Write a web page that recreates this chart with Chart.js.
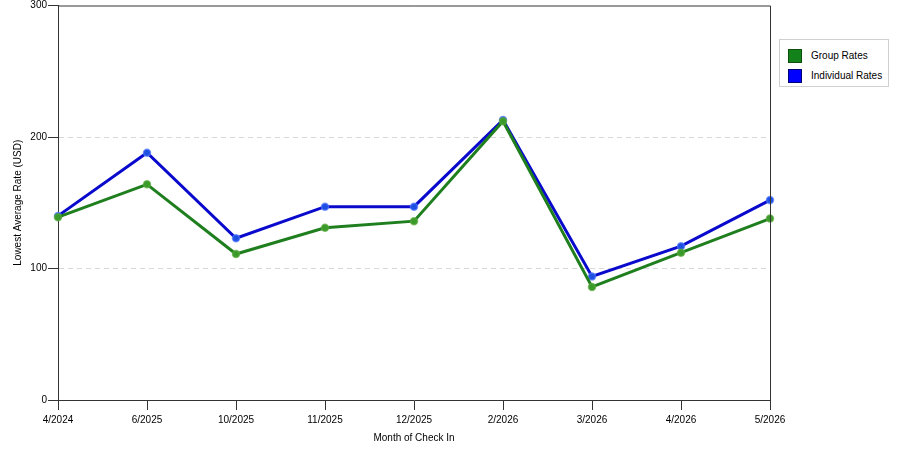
<!DOCTYPE html>
<html>
<head>
<meta charset="utf-8">
<script src="https://cdn.jsdelivr.net/npm/chart.js@4"></script>
<style>
  html, body { margin: 0; padding: 0; background: #fff; }
  .wrapper { position: relative; width: 900px; height: 450px; }
  #legend {
    position: absolute; left: 779px; top: 39px; width: 108px; height: 46px;
    border: 1px solid #d0d0d0; background: #fff;
    font-family: "Liberation Sans", Arial, sans-serif; font-size: 10px; color: #000;
  }
  #legend .item { position: absolute; left: 8px; height: 14px; line-height: 13px; }
  #legend .box { position: absolute; left: 0; top: 0; width: 12px; height: 12px; border: 1px solid #333; }
  #legend .txt { position: absolute; left: 23px; top: 0; white-space: nowrap; }
</style>
</head>
<body>
<div class="wrapper">
  <canvas id="Chart" width="900" height="450"></canvas>
  <div id="legend"></div>
</div>
<script>
// month of check in
let date_label = ["4/2024", "6/2025", "10/2025", "11/2025", "12/2025", "2/2026", "3/2026", "4/2026", "5/2026"];
// lowest average rate (USD)
let group_rates = [139, 164, 111, 131, 136, 212, 86, 112, 138];
let individual_rates = [140, 188, 123, 147, 147, 213, 94, 117, 152];
let y_ticks = [0, 100, 200, 300];

let font = { family: "Liberation Sans, Arial, sans-serif", size: 10 };

// legend, drawn as html
let legendItems = [
  { label: "Group Rates", color: "#14821a", border: "#0b4f0b" },
  { label: "Individual Rates", color: "#0000ff", border: "#00007a" }
];
let legend = document.getElementById("legend");
legendItems.forEach(function(it, i) {
  let d = document.createElement("div");
  d.className = "item";
  d.style.top = (9 + i * 20) + "px";
  d.innerHTML = '<span class="box" style="background:' + it.color + ';border-color:' + it.border + '"></span>' +
                '<span class="txt">' + it.label + '</span>';
  legend.appendChild(d);
});

// top and right frame lines
let frame = {
  id: "frame",
  afterDraw: function(chart) {
    let a = chart.chartArea, ctx = chart.ctx;
    ctx.save();
    ctx.strokeStyle = "#333";
    ctx.lineWidth = 1;
    ctx.beginPath();
    ctx.moveTo(a.left, a.top + 0.5);
    ctx.lineTo(a.right + 0.5, a.top + 0.5);
    ctx.lineTo(a.right + 0.5, a.bottom);
    ctx.stroke();
    ctx.restore();
  }
};

var ctx = document.getElementById("Chart");
var myChart = new Chart(ctx, {
  type: "line",
  data: {
    labels: date_label,
    datasets: [{
      data: group_rates,
      label: "Group Rates",
      borderColor: "#1f7f1f",
      backgroundColor: "#3a9a2a",
      pointBorderColor: "rgba(90,170,60,0.7)",
      borderWidth: 3,
      pointRadius: 3.5,
      pointBorderWidth: 1.5,
      fill: false,
      tension: 0
    }, {
      data: individual_rates,
      label: "Individual Rates",
      borderColor: "#0a0acc",
      backgroundColor: "#1e4fe0",
      pointBorderColor: "rgba(80,120,255,0.7)",
      borderWidth: 3,
      pointRadius: 3.5,
      pointBorderWidth: 1.5,
      fill: false,
      tension: 0
    }]
  },
  options: {
    responsive: false,
    animation: false,
    layout: { padding: { top: 0, right: 130, left: 0, bottom: 0 } },
    plugins: { legend: { display: false }, tooltip: { enabled: false } },
    scales: {
      x: {
        offset: false,
        afterFit: function(s) { s.height = 50; },
        border: { display: true, color: "#333" },
        grid: { drawOnChartArea: false, drawTicks: true, tickLength: 10, tickColor: "#333" },
        ticks: { color: "#000", font: font, padding: 4, maxRotation: 0, autoSkip: false },
        title: { display: true, text: "Month of Check In", color: "#000", font: font, padding: { top: 6, bottom: 6 } }
      },
      y: {
        min: 0,
        max: 300,
        afterFit: function(s) { s.width = 58; s.paddingTop = 4; },
        afterBuildTicks: function(s) { s.ticks = y_ticks.map(function(v) { return { value: v }; }); },
        border: { display: true, color: "#333", dash: [5, 4] },
        grid: {
          drawTicks: true,
          tickLength: 10,
          tickColor: "#333",
          tickBorderDash: [],
          color: function(c) { return (c.tick && (c.tick.value === 100 || c.tick.value === 200)) ? "#d8d8d8" : "rgba(0,0,0,0)"; }
        },
        ticks: { color: "#000", font: font, padding: 1 },
        title: { display: true, text: "Lowest Average Rate (USD)", color: "#000", font: font, padding: { top: 12, bottom: 0 } }
      }
    }
  },
  plugins: [frame]
});
</script>
</body>
</html>
